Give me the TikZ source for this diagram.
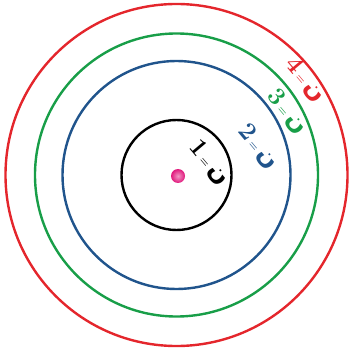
\documentclass[tikz,border=0pt]{standalone}
\usepackage{fontspec}
\newfontfamily\arabicfont[Script=Arabic]{DejaVu Sans}
\definecolor{cred}{RGB}{228,38,44}
\definecolor{cgreen}{RGB}{24,158,72}
\definecolor{cblue}{RGB}{32,84,140}
\definecolor{cpink}{RGB}{225,25,125}
\tikzset{
  orbit/.style={draw=#1, line width=2.4pt},
  lvl/.style={text=#1, rotate=-50, inner sep=1pt, font=\fontsize{25}{25}\selectfont\bfseries}
}
\newcommand{\lvltxt}[1]{#1\hspace{3pt}{\fontsize{11}{11}\selectfont =}\hspace{3pt}{\arabicfont\fontsize{24}{24}\selectfont\bfseries ن}}
\begin{document}
\begin{tikzpicture}[x=1pt,y=-1pt]
\useasboundingbox (0,0) rectangle (351,352);
\coordinate (c) at (176.5,175);
\draw[orbit=black] (c) circle (55);
\draw[orbit=cblue] (c) circle (114);
\draw[orbit=cgreen] (c) circle (141.5);
\draw[orbit=cred] (c) circle (171);
\node[circle, inner sep=0pt, minimum size=14pt, shading=radial, inner color=cpink!45!white, outer color=cpink] (nuc) at (178,176) {};
\node[lvl=black] (l1) at (209,163) {\lvltxt{1}};
\node[lvl=cblue] (l2) at (258,147) {\lvltxt{2}};
\node[lvl=cgreen] (l3) at (287,112) {\lvltxt{3}};
\node[lvl=cred] (l4) at (305,80) {\lvltxt{4}};
\end{tikzpicture}
\end{document}
